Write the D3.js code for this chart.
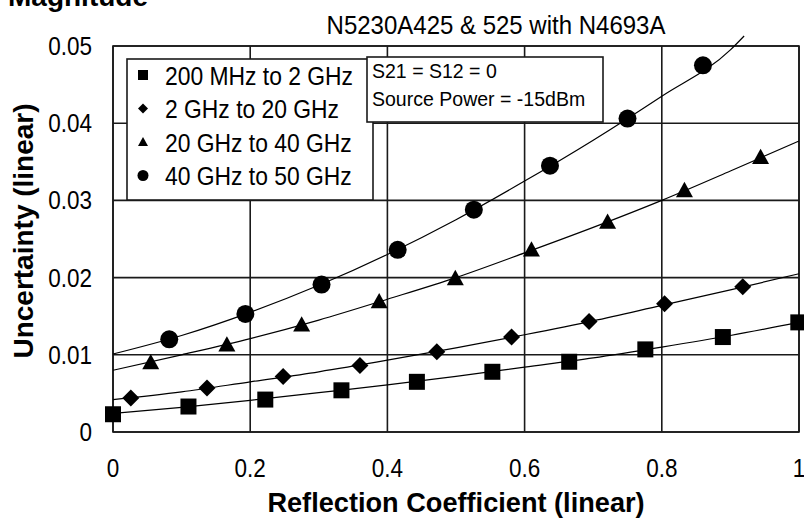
<!DOCTYPE html>
<html>
<head>
<meta charset="utf-8">
<script src="https://cdn.jsdelivr.net/npm/d3@7"></script>
<style>
  html, body { margin: 0; padding: 0; background: #fff; }
  svg { display: block; }
  text { font-family: Arial, "Liberation Sans", sans-serif; fill: #000; }
</style>
</head>
<body>
<svg id="chart" width="804" height="518"></svg>
<script>
// ---------------- data ----------------
const xTickValues = [0, 0.2, 0.4, 0.6, 0.8, 1];
const xTickLabels = ["0", "0.2", "0.4", "0.6", "0.8", "1"];
const yTickValues = [0, 0.01, 0.02, 0.03, 0.04, 0.05];
const yTickLabels = ["0", "0.01", "0.02", "0.03", "0.04", "0.05"];

const seriesNames = ["200 MHz to 2 GHz", "2 GHz to 20 GHz", "20 GHz to 40 GHz", "40 GHz to 50 GHz"];

const squareX = [0, 0.11, 0.222, 0.333, 0.443, 0.553, 0.665, 0.776, 0.889, 0.999];
const squareY = [0.0023, 0.0033, 0.0042, 0.0054, 0.0065, 0.0078, 0.0091, 0.0107, 0.0123, 0.0142];
const diamondX = [0.026, 0.137, 0.248, 0.360, 0.472, 0.581, 0.694, 0.804, 0.918];
const diamondY = [0.0044, 0.0057, 0.0072, 0.0086, 0.0104, 0.0123, 0.0143, 0.0166, 0.0188];
const triangleX = [0.055, 0.166, 0.275, 0.388, 0.499, 0.610, 0.721, 0.833, 0.944];
const triangleY = [0.0090, 0.0113, 0.0139, 0.0169, 0.0199, 0.0236, 0.0272, 0.0313, 0.0356];
const circleX = [0.082, 0.193, 0.304, 0.415, 0.526, 0.637, 0.750, 0.860];
const circleY = [0.0120, 0.0153, 0.0191, 0.0236, 0.0288, 0.0345, 0.0406, 0.0475];

// fitted trend curves
const fitX = [0, 0.1, 0.2, 0.3, 0.4, 0.5, 0.6, 0.7, 0.8, 0.9, 1.0];
const squareFit = [0.0024, 0.0032, 0.0041, 0.0051, 0.0061, 0.0072, 0.0084, 0.0096, 0.0110, 0.0125, 0.0142];
const diamondFit = [0.0042, 0.0052, 0.0065, 0.0078, 0.0093, 0.0109, 0.0126, 0.0144, 0.0164, 0.0184, 0.0205];
const triangleFit = [0.0080, 0.0100, 0.0121, 0.0145, 0.0172, 0.0200, 0.0232, 0.0265, 0.0300, 0.0338, 0.0377];
const circleFitX = [0, 0.1, 0.2, 0.3, 0.4, 0.5, 0.6, 0.7, 0.8, 0.9, 0.92];
const circleFit = [0.0101, 0.0125, 0.0155, 0.0190, 0.0230, 0.0275, 0.0325, 0.0378, 0.0435, 0.0495, 0.0513];

const titleText = "N5230A425 & 525 with N4693A";
const note1 = "S21 = S12 = 0";
const note2 = "Source Power = -15dBm";

// ---------------- layout ----------------
const svg = d3.select("#chart");
const L = 113, R = 799, T = 46, B = 432;
const x = d3.scaleLinear().domain([0, 1]).range([L, R]);
const y = d3.scaleLinear().domain([0, 0.05]).range([B, T]);

svg.append("rect").attr("width", 804).attr("height", 518).attr("fill", "#fff");

function addText(px, py, str, size, sx, anchor, weight, baseline) {
  const g = svg.append("g").attr("transform", `translate(${px},${py}) scale(${sx},1)`);
  const t = g.append("text").attr("x", 0).attr("y", 0)
    .attr("font-size", size).attr("text-anchor", anchor || "start")
    .attr("font-weight", weight || "normal")
    .text(str);
  if (baseline) t.attr("dominant-baseline", baseline);
  return g;
}

const gridColor = "#1a1a1a";
const gridW = 1.6;

// gridlines
svg.append("g").selectAll("line").data(xTickValues).join("line")
  .attr("x1", d => x(d)).attr("x2", d => x(d)).attr("y1", T).attr("y2", B)
  .attr("stroke", gridColor).attr("stroke-width", gridW);
svg.append("g").selectAll("line").data(yTickValues).join("line")
  .attr("x1", L).attr("x2", R).attr("y1", d => y(d)).attr("y2", d => y(d))
  .attr("stroke", gridColor).attr("stroke-width", gridW);
svg.append("rect").attr("x", L).attr("y", T).attr("width", R - L).attr("height", B - T)
  .attr("fill", "none").attr("stroke", gridColor).attr("stroke-width", gridW);

// tick labels
xTickValues.forEach((v, i) => addText(x(v), 477, xTickLabels[i], 25, 0.9, "middle"));
yTickValues.forEach((v, i) => addText(92, y(v) + 9, yTickLabels[i], 25, 0.9, "end"));

// titles
addText(8, 6, "Magnitude", 28, 1, "start", "bold");
addText(496, 34, titleText, 25, 0.96, "middle");
addText(456, 512, "Reflection Coefficient (linear)", 28, 0.97, "middle", "bold");
svg.append("text").attr("transform", "translate(33,231) rotate(-90)")
  .attr("font-size", 28).attr("font-weight", "bold").attr("text-anchor", "middle")
  .text("Uncertainty (linear)");

// fit lines
const line = d3.line().curve(d3.curveMonotoneX).x(d => x(d[0])).y(d => y(d[1]));
const fits = [
  d3.zip(fitX, squareFit), d3.zip(fitX, diamondFit),
  d3.zip(fitX, triangleFit), d3.zip(circleFitX, circleFit)
];
svg.append("g").selectAll("path").data(fits).join("path")
  .attr("d", line).attr("fill", "none").attr("stroke", "#000").attr("stroke-width", 1.2);

// marker shapes
function shape(kind, s) {
  const h = s / 2;
  if (kind === 0) return `M${-h},${-h}H${h}V${h}H${-h}Z`;
  if (kind === 1) return `M0,${-h}L${h},0L0,${h}L${-h},0Z`;
  if (kind === 2) return `M0,${-h}L${h},${h * 0.8}L${-h},${h * 0.8}Z`;
  return d3.symbol(d3.symbolCircle, Math.PI * h * h)();
}
const markerSets = [
  { k: 0, s: 16, pts: d3.zip(squareX, squareY) },
  { k: 1, s: 17, pts: d3.zip(diamondX, diamondY) },
  { k: 2, s: 17, pts: d3.zip(triangleX, triangleY) },
  { k: 3, s: 18, pts: d3.zip(circleX, circleY) }
];
markerSets.forEach(ms => {
  svg.append("g").selectAll("path").data(ms.pts).join("path")
    .attr("transform", d => `translate(${x(d[0])},${y(d[1])})`)
    .attr("d", shape(ms.k, ms.s)).attr("fill", "#000");
});

// legend
const lg = { x: 127, y: 59, w: 246, h: 141 };
svg.append("rect").attr("x", lg.x).attr("y", lg.y).attr("width", lg.w).attr("height", lg.h)
  .attr("fill", "#fff").attr("stroke", gridColor).attr("stroke-width", gridW);
seriesNames.forEach((name, i) => {
  const cy = 75 + i * 33.5;
  svg.append("path").attr("transform", `translate(143,${cy})`)
    .attr("d", shape(i, i === 3 ? 11 : 10)).attr("fill", "#000");
  addText(165, cy + 9.5, name, 26, 0.88, "start");
});

// note box
svg.append("rect").attr("x", 367).attr("y", 57).attr("width", 236).attr("height", 65)
  .attr("fill", "#fff").attr("stroke", gridColor).attr("stroke-width", gridW);
addText(372, 78, note1, 21, 0.93, "start");
addText(372, 106, note2, 21, 0.93, "start");
</script>
</body>
</html>
